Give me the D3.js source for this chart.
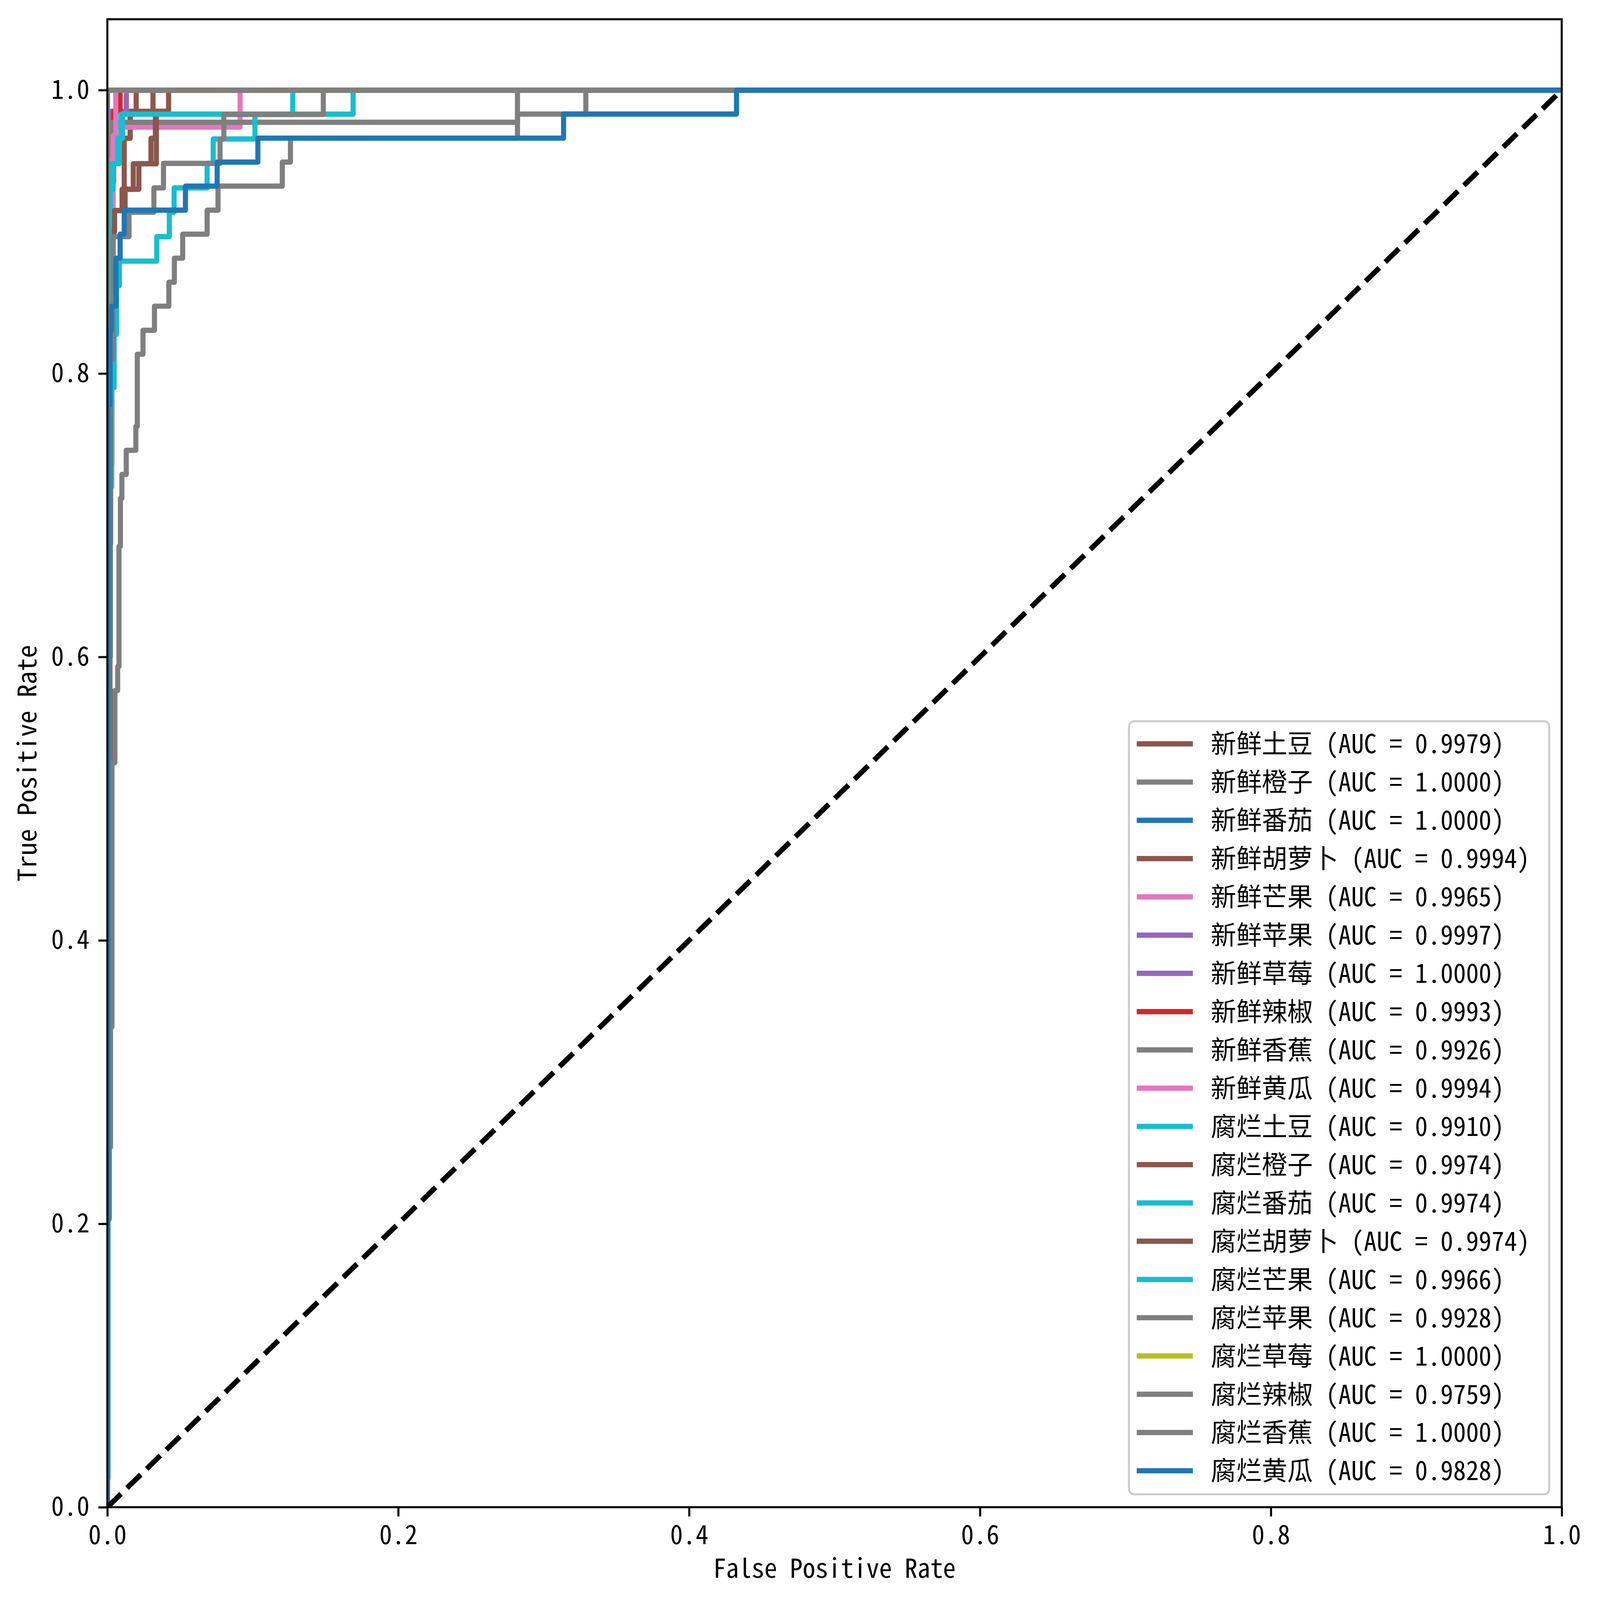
<!DOCTYPE html>
<html>
<head>
<meta charset="utf-8">
<script src="https://cdn.jsdelivr.net/npm/d3@7"></script>
<style>
  html, body { margin: 0; padding: 0; width: 100%; height: 100%; overflow: hidden; background: #fff; }
  #container { width: 100vw; height: 100vh; }
  svg text { font-family: "Noto Sans Mono CJK SC", "Noto Sans CJK SC", monospace; }
</style>
</head>
<body>
<div id="container"></div>
<script>
// <--------- data --------->
const classNames = [
  "新鲜土豆", "新鲜橙子", "新鲜番茄", "新鲜胡萝卜", "新鲜芒果",
  "新鲜苹果", "新鲜草莓", "新鲜辣椒", "新鲜香蕉", "新鲜黄瓜",
  "腐烂土豆", "腐烂橙子", "腐烂番茄", "腐烂胡萝卜", "腐烂芒果",
  "腐烂苹果", "腐烂草莓", "腐烂辣椒", "腐烂香蕉", "腐烂黄瓜"
];
const aucs = [
  0.9979, 1.0000, 1.0000, 0.9994, 0.9965,
  0.9997, 1.0000, 0.9993, 0.9926, 0.9994,
  0.9910, 0.9974, 0.9974, 0.9974, 0.9966,
  0.9928, 1.0000, 0.9759, 1.0000, 0.9828
];
const xTicks = [0, 0.2, 0.4, 0.6, 0.8, 1.0];
const yTicks = [0, 0.2, 0.4, 0.6, 0.8, 1.0];

// (fpr, tpr) points of each roc curve
const rocFreshPotato = [[0,0],[0,0.53],[0.0010,0.53],[0.0010,0.915],[0.0116,0.915],[0.0116,0.966],
  [0.0157,0.966],[0.0157,0.985],[0.0314,0.985],[0.0314,1],[1,1]];
const rocFreshOrange = [[0,0],[0,1],[1,1]];
const rocFreshTomato = [[0,0],[0,1],[1,1]];
const rocFreshCarrot = [[0,0],[0,0.966],[0.0157,0.966],[0.0157,0.985],[0.0198,0.985],[0.0198,1],[1,1]];
const rocFreshMango = [[0,0],[0,0.40],[0.0009,0.40],[0.0009,0.68],[0.0024,0.68],[0.0024,0.736],
  [0.0032,0.736],[0.0032,0.81],[0.0040,0.81],[0.0040,0.9739],[0.0913,0.9739],[0.0913,1],[1,1]];
const rocFreshApple = [[0,0],[0,0.968],[0.0024,0.968],[0.0024,0.985],[0.0131,0.985],[0.0131,1],[1,1]];
const rocFreshStrawberry = [[0,0],[0,1],[1,1]];
const rocFreshPepper = [[0,0],[0,0.935],[0.0043,0.935],[0.0043,0.985],[0.0088,0.985],[0.0088,1],[1,1]];
const rocFreshBanana = [[0,0],[0,0.40],[0.0010,0.40],[0.0010,0.94],[0.0030,0.94],[0.0030,0.9773],
  [0.2820,0.9773],[0.2820,1],[1,1]];
const rocFreshCucumber = [[0,0],[0,0.95],[0.0040,0.95],[0.0040,0.968],[0.0058,0.968],[0.0058,1],[1,1]];
const rocRottenPotato = [[0,0],[0,0.30],[0.0009,0.30],[0.0009,0.60],[0.0020,0.60],[0.0020,0.72],
  [0.0030,0.72],[0.0030,0.79],[0.0047,0.79],[0.0047,0.8276],[0.0064,0.8276],[0.0064,0.8621],
  [0.0083,0.8621],[0.0083,0.8793],[0.0340,0.8793],[0.0340,0.8966],[0.0426,0.8966],[0.0426,0.9138],
  [0.0459,0.9138],[0.0459,0.931],[0.0686,0.931],[0.0686,0.9483],[0.0728,0.9483],[0.0728,0.9655],
  [0.1015,0.9655],[0.1015,0.9828],[0.1275,0.9828],[0.1275,1],[1,1]];
const rocRottenOrange = [[0,0],[0,0.40],[0.0009,0.40],[0.0009,0.86],[0.0032,0.86],[0.0032,0.915],
  [0.0101,0.915],[0.0101,0.930],[0.0178,0.930],[0.0178,0.948],[0.0300,0.948],[0.0300,0.966],
  [0.0330,0.966],[0.0330,0.985],[0.0421,0.985],[0.0421,1],[1,1]];
const rocRottenTomato = [[0,0],[0,0.60],[0.0020,0.60],[0.0020,0.93],[0.0040,0.93],[0.0040,0.948],
  [0.0082,0.948],[0.0082,0.966],[0.0094,0.966],[0.0094,0.983],[0.1275,0.983],[0.1275,1],[1,1]];
const rocRottenCarrot = [[0,0],[0,0.50],[0.0018,0.50],[0.0018,0.90],[0.0050,0.90],[0.0050,0.915],
  [0.0122,0.915],[0.0122,0.930],[0.0217,0.930],[0.0217,0.948],[0.0337,0.948],[0.0337,0.985],
  [0.0421,0.985],[0.0421,1],[1,1]];
const rocRottenMango = [[0,0],[0,0.70],[0.0012,0.70],[0.0012,0.948],[0.0070,0.948],[0.0070,0.966],
  [0.0105,0.966],[0.0105,0.983],[0.1690,0.983],[0.1690,1],[1,1]];
const rocRottenApple = [[0,0],[0,0.45],[0.0012,0.45],[0.0012,0.81],[0.0040,0.81],[0.0040,0.8966],
  [0.0149,0.8966],[0.0149,0.9138],[0.0320,0.9138],[0.0320,0.931],[0.0386,0.931],[0.0386,0.9483],
  [0.0775,0.9483],[0.0775,0.9655],[0.0801,0.9655],[0.0801,0.9828],[0.1485,0.9828],[0.1485,1],[1,1]];
const rocRottenStrawberry = [[0,0],[0,1],[1,1]];
const rocRottenPepper = [[0,0],[0,0.2034],[0.0014,0.2034],[0.0014,0.2542],[0.0022,0.2542],[0.0022,0.339],
  [0.0032,0.339],[0.0032,0.5254],[0.0052,0.5254],[0.0052,0.5763],[0.0071,0.5763],[0.0071,0.5932],
  [0.0080,0.5932],[0.0080,0.678],[0.0090,0.678],[0.0090,0.7119],[0.0100,0.7119],[0.0100,0.7288],
  [0.0130,0.7288],[0.0130,0.7458],[0.0196,0.7458],[0.0196,0.7627],[0.0206,0.7627],[0.0206,0.8136],
  [0.0245,0.8136],[0.0245,0.8305],[0.0324,0.8305],[0.0324,0.8475],[0.0423,0.8475],[0.0423,0.8644],
  [0.0461,0.8644],[0.0461,0.8814],[0.0518,0.8814],[0.0518,0.8983],[0.0686,0.8983],[0.0686,0.9153],
  [0.0761,0.9153],[0.0761,0.9322],[0.1203,0.9322],[0.1203,0.9492],[0.1259,0.9492],[0.1259,0.9661],
  [0.2820,0.9661],[0.2820,0.9831],[0.3290,0.9831],[0.3290,1],[1,1]];
const rocRottenBanana = [[0,0],[0,1],[1,1]];
const rocRottenCucumber = [[0,0],[0,0.02],[0.0004,0.02],[0.0004,0.778],[0.0019,0.778],[0.0019,0.8305],
  [0.0028,0.8305],[0.0028,0.8475],[0.0059,0.8475],[0.0059,0.8814],[0.0088,0.8814],[0.0088,0.8983],
  [0.0116,0.8983],[0.0116,0.9153],[0.0537,0.9153],[0.0537,0.9322],[0.0755,0.9322],[0.0755,0.9492],
  [0.1035,0.9492],[0.1035,0.9661],[0.3137,0.9661],[0.3137,0.9831],[0.4326,0.9831],[0.4326,1],[1,1]];
const chanceLine = [[0,0],[1,1]];

// colours picked by the original plot, in legend order
const lineColors = [
  "#8c564b", "#7f7f7f", "#1f77b4", "#8c564b", "#e377c2",
  "#9467bd", "#9467bd", "#d62728", "#7f7f7f", "#e377c2",
  "#17becf", "#8c564b", "#17becf", "#8c564b", "#17becf",
  "#7f7f7f", "#bcbd22", "#7f7f7f", "#7f7f7f", "#1f77b4"
];

let rocCurves = [
  rocFreshPotato, rocFreshOrange, rocFreshTomato, rocFreshCarrot, rocFreshMango,
  rocFreshApple, rocFreshStrawberry, rocFreshPepper, rocFreshBanana, rocFreshCucumber,
  rocRottenPotato, rocRottenOrange, rocRottenTomato, rocRottenCarrot, rocRottenMango,
  rocRottenApple, rocRottenStrawberry, rocRottenPepper, rocRottenBanana, rocRottenCucumber
];

// <--------- the canvas --------->
// drawn in a 4263 x 4138 box, scaled to whatever the window gives
const W = 4263, H = 4138;
const plotL = 286, plotR = 4161, plotT = 49.75, plotB = 3898;
const fontPx = 68;
const lw = 13.6;       // 2pt
const thin = 5.44;     // 0.8pt
const tickLen = 23.8;  // 3.5pt

let viz = d3.select("#container")
  .append("svg")
    .attr("viewBox", "0 0 " + W + " " + H)
    .attr("preserveAspectRatio", "none")
    .attr("width", "100%")
    .attr("height", "100%")
    .style("display", "block")
    .style("background-color", "#ffffff");

let x = d3.scaleLinear().domain([0, 1]).range([plotL, plotR]);
let y = d3.scaleLinear().domain([0, 1.05]).range([plotB, plotT]);

viz.append("defs").append("clipPath")
    .attr("id", "plotClip")
  .append("rect")
    .attr("x", plotL)
    .attr("y", plotT)
    .attr("width", plotR - plotL)
    .attr("height", plotB - plotT);

let rocLine = d3.line()
  .x(function(d){ return x(d[0]); })
  .y(function(d){ return y(d[1]); });

// <--------- curves --------->
let plot = viz.append("g").attr("clip-path", "url(#plotClip)");

plot.selectAll(".roc").data(rocCurves).enter()
  .append("path")
    .attr("class", "roc")
    .attr("d", rocLine)
    .attr("fill", "none")
    .attr("stroke", function(d, i){ return lineColors[i]; })
    .attr("stroke-width", lw)
    .attr("stroke-linejoin", "round")
    .attr("stroke-linecap", "square");

plot.append("path")
  .datum(chanceLine)
    .attr("d", rocLine)
    .attr("fill", "none")
    .attr("stroke", "#000000")
    .attr("stroke-width", lw)
    .attr("stroke-dasharray", "50.3,21.8")
    .attr("stroke-linecap", "butt");

// <--------- axes --------->
let xAxis = d3.axisBottom(x)
  .tickValues(xTicks)
  .tickFormat(d3.format(".1f"))
  .tickSize(tickLen)
  .tickPadding(tickLen);

let yAxis = d3.axisLeft(y)
  .tickValues(yTicks)
  .tickFormat(d3.format(".1f"))
  .tickSize(tickLen)
  .tickPadding(tickLen);

let gx = viz.append("g")
  .attr("transform", "translate(0," + plotB + ")")
  .call(xAxis);
let gy = viz.append("g")
  .attr("transform", "translate(" + plotL + ",0)")
  .call(yAxis);

[gx, gy].forEach(function(g){
  g.attr("font-size", fontPx).attr("font-family", null);
  g.select(".domain").remove();
  g.selectAll(".tick line").attr("stroke", "#000").attr("stroke-width", thin);
  g.selectAll(".tick text").attr("fill", "#000");
});

// spines
viz.append("rect")
  .attr("x", plotL)
  .attr("y", plotT)
  .attr("width", plotR - plotL)
  .attr("height", plotB - plotT)
  .attr("fill", "none")
  .attr("stroke", "#000")
  .attr("stroke-width", thin);

viz.append("text")
  .attr("x", (plotL + plotR) / 2)
  .attr("y", 4080)
  .attr("text-anchor", "middle")
  .style("font-size", fontPx + "px")
  .text("False Positive Rate");

viz.append("text")
  .attr("transform", "translate(97," + (plotT + plotB) / 2 + ") rotate(-90)")
  .attr("text-anchor", "middle")
  .style("font-size", fontPx + "px")
  .text("True Positive Rate");

// <--------- legend --------->
const legX0 = 3008, legX1 = 4127.7, legY0 = 1865.4, legY1 = 3864.6;
const rowY0 = 1923.7, rowStep = 98.95;
const handleX0 = 3035.5, handleX1 = 3171.5;

let legend = viz.append("g").attr("class", "legend");

legend.append("rect")
  .attr("x", legX0)
  .attr("y", legY0)
  .attr("width", legX1 - legX0)
  .attr("height", legY1 - legY0)
  .attr("rx", 13.6)
  .attr("ry", 13.6)
  .attr("fill", "#ffffff")
  .attr("fill-opacity", 0.8)
  .attr("stroke", "#cccccc")
  .attr("stroke-width", thin);

let rows = legend.selectAll(".row").data(classNames).enter()
  .append("g")
    .attr("class", "row")
    .attr("transform", function(d, i){ return "translate(0," + (rowY0 + i * rowStep) + ")"; });

rows.append("line")
  .attr("x1", handleX0)
  .attr("x2", handleX1)
  .attr("y1", 0)
  .attr("y2", 0)
  .attr("stroke", function(d, i){ return lineColors[i]; })
  .attr("stroke-width", lw)
  .attr("stroke-linecap", "square");

rows.append("text")
  .attr("x", 3226)
  .attr("y", 24.5)
  .style("font-size", fontPx + "px")
  .style("fill", "#000")
  .text(function(d, i){ return d + " (AUC = " + aucs[i].toFixed(4) + ")"; });
</script>
</body>
</html>
